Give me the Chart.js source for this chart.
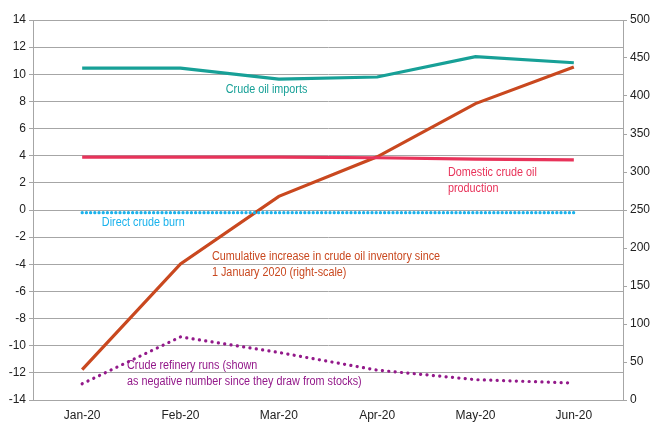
<!DOCTYPE html>
<html>
<head>
<meta charset="utf-8">
<script src="https://cdn.jsdelivr.net/npm/chart.js@4"></script>
<style>
  html, body { margin: 0; padding: 0; background: #fff; }
  #wrap { width: 653px; height: 423px; }
</style>
</head>
<body>
<div id="wrap"><canvas id="chart" width="653" height="423"></canvas></div>
<script>
const months = ['Jan-20', 'Feb-20', 'Mar-20', 'Apr-20', 'May-20', 'Jun-20'];
const crudeImports = [10.45, 10.45, 9.65, 9.8, 11.3, 10.85];
const domesticProduction = [3.9, 3.9, 3.9, 3.85, 3.75, 3.7];
const directBurn = [-0.2, -0.2, -0.2, -0.2, -0.2, -0.2];
const refineryRuns = [-12.8, -9.35, -10.5, -11.8, -12.5, -12.75];
const cumulativeInventory = [40, 179, 268, 320, 390, 438];

const FONT = "'Liberation Sans', Arial, sans-serif";

// text labels placed next to the lines (x = category index, y = left-axis value)
const notes = [
  { lines: ['Crude oil imports'], x: 1.46, y: 8.84, color: '#17a097' },
  { lines: ['Domestic crude oil', 'production'], x: 3.72, y: 2.73, color: '#e8335a' },
  { lines: ['Direct crude burn'], x: 0.2, y: -0.96, color: '#19b2ec' },
  { lines: ['Cumulative increase in crude oil inventory since', '1 January 2020 (right-scale)'], x: 1.32, y: -3.46, color: '#c9481f' },
  { lines: ['Crude refinery runs (shown', 'as negative number since they draw from stocks)'], x: 0.456, y: -11.5, color: '#93198a' }
];

const notesPlugin = {
  id: 'notes',
  afterDatasetsDraw(chart) {
    const ctx = chart.ctx;
    const xs = chart.scales.x, ys = chart.scales.y;
    notes.forEach(n => {
      const px = xs.getPixelForValue(n.x);
      const py = ys.getPixelForValue(n.y);
      ctx.save();
      ctx.translate(px, py);
      ctx.scale(0.9, 1); // the source uses a narrow face
      ctx.font = '12px ' + FONT;
      ctx.textAlign = 'left';
      ctx.textBaseline = 'middle';
      ctx.fillStyle = n.color;
      n.lines.forEach((t, i) => ctx.fillText(t, 0, i * 16));
      ctx.restore();
    });
  }
};

function line(label, data, color, axis, gap) {
  return {
    label: label,
    data: data,
    yAxisID: axis,
    borderColor: color,
    backgroundColor: color,
    borderWidth: 3.2,
    borderDash: gap ? [0.1, gap] : [],
    borderCapStyle: gap ? 'round' : 'butt',
    pointRadius: 0,
    tension: 0,
    fill: false
  };
}

new Chart(document.getElementById('chart'), {
  type: 'line',
  data: {
    labels: months,
    datasets: [
      line('Crude oil imports', crudeImports, '#17a097', 'y', 0),
      line('Domestic crude oil production', domesticProduction, '#e8335a', 'y', 0),
      line('Direct crude burn', directBurn, '#19b2ec', 'y', 4.1),
      line('Crude refinery runs', refineryRuns, '#93198a', 'y', 6.3),
      line('Cumulative increase in crude oil inventory', cumulativeInventory, '#c9481f', 'y2', 0)
    ]
  },
  options: {
    responsive: false,
    animation: false,
    layout: { padding: { top: 20, bottom: 0, left: 0, right: 0 } },
    plugins: { legend: { display: false }, tooltip: { enabled: false } },
    scales: {
      x: {
        offset: true,
        grid: { display: false, drawTicks: false },
        border: { color: '#a6a6a6', width: 1 },
        ticks: { color: '#222', font: { family: FONT, size: 12 }, padding: 8, maxRotation: 0 },
        afterFit(s) { s.height = 23; }
      },
      y: {
        position: 'left',
        min: -14, max: 14,
        ticks: { stepSize: 2, color: '#222', font: { family: FONT, size: 12 }, padding: 3 },
        grid: { color: '#a6a6a6', tickLength: 4 },
        border: { color: '#a6a6a6' },
        afterFit(s) { s.width = 33; }
      },
      y2: {
        position: 'right',
        min: 0, max: 500,
        ticks: { stepSize: 50, color: '#222', font: { family: FONT, size: 12 }, padding: 3 },
        grid: { drawOnChartArea: false, color: '#a6a6a6', tickLength: 4 },
        border: { color: '#a6a6a6' },
        afterFit(s) { s.width = 30; }
      }
    }
  },
  plugins: [notesPlugin]
});
</script>
</body>
</html>
